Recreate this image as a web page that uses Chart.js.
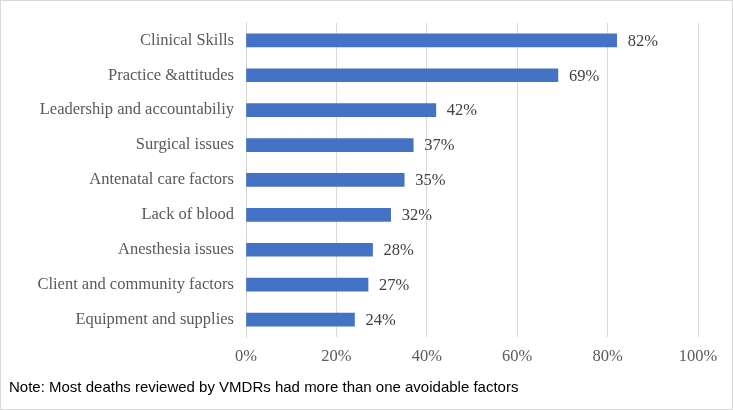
<!DOCTYPE html>
<html>
<head>
<meta charset="utf-8">
<script src="https://cdn.jsdelivr.net/npm/chart.js@4/dist/chart.umd.min.js"></script>
<style>
	html, body { margin: 0; padding: 0; background: #fff; }
	#wrap { position: relative; width: 733px; height: 410px; box-sizing: border-box; border: 1px solid #d9d9d9; }
	#chart { position: absolute; left: 0; top: 0; }
	#note { position: absolute; left: 8px; top: 377px; font: 15px "Liberation Sans", Arial, sans-serif; color: #000; white-space: nowrap; }
</style>
</head>
<body>
<div id="wrap">
	<canvas id="chart" width="731" height="408"></canvas>
	<div id="note">Note: Most deaths reviewed by VMDRs had more than one avoidable factors</div>
</div>
<script>
const categories = [
	"Clinical Skills",
	"Practice &attitudes",
	"Leadership and accountabiliy",
	"Surgical issues",
	"Antenatal care factors",
	"Lack of blood",
	"Anesthesia issues",
	"Client and community factors",
	"Equipment and supplies"
];
const percents = [82, 69, 42, 37, 35, 32, 28, 27, 24];
const xTicks = [0, 20, 40, 60, 80, 100];

const serif = "'Liberation Serif', 'Times New Roman', serif";

const valueLabels = {
	id: "valueLabels",
	afterDatasetsDraw(chart) {
		const ctx = chart.ctx;
		const meta = chart.getDatasetMeta(0);
		ctx.save();
		ctx.font = "16.5px " + serif;
		ctx.fillStyle = "#404040";
		ctx.textAlign = "left";
		ctx.textBaseline = "middle";
		meta.data.forEach((bar, i) => {
			ctx.fillText(percents[i] + "%", bar.x + 11, bar.y + 1);
		});
		ctx.restore();
	}
};

new Chart(document.getElementById("chart"), {
	type: "bar",
	data: {
		labels: categories,
		datasets: [{
			data: percents,
			backgroundColor: "#4472C4",
			barThickness: 13
		}]
	},
	options: {
		indexAxis: "y",
		responsive: false,
		animation: false,
		layout: { padding: { left: 0, top: 21, right: 34, bottom: 44 } },
		plugins: { legend: { display: false }, tooltip: { enabled: false } },
		scales: {
			x: {
				min: 0,
				max: 100,
				afterBuildTicks(scale) { scale.ticks = xTicks.map(v => ({value: v})); },
				afterFit(scale) { scale.height = 28; },
				grid: { color: "#d9d9d9", drawTicks: false },
				border: { display: false },
				ticks: {
					padding: 10,
					color: "#595959",
					font: { family: serif, size: 16.5 },
					callback: v => v + "%"
				}
			},
			y: {
				afterFit(scale) { scale.width = 245; },
				grid: { display: false, drawTicks: false },
				border: { color: "#d9d9d9" },
				ticks: {
					padding: 12,
					color: "#595959",
					font: { family: serif, size: 16.5 }
				}
			}
		}
	},
	plugins: [valueLabels]
});
</script>
</body>
</html>
